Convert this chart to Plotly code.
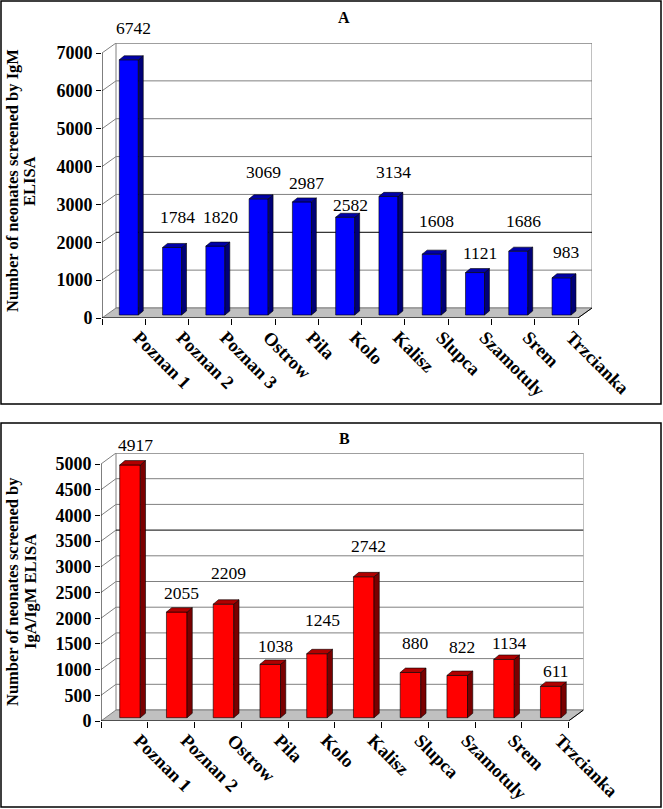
import plotly.graph_objects as go

W, H = 663, 809

# ---------------- data ----------------
cats_a = ["Poznan 1", "Poznan 2", "Poznan 3", "Ostrow", "Pila", "Kolo",
          "Kalisz", "Slupca", "Szamotuly", "Srem", "Trzcianka"]
vals_a = [6742, 1784, 1820, 3069, 2987, 2582, 3134, 1608, 1121, 1686, 983]
ticks_a = [0, 1000, 2000, 3000, 4000, 5000, 6000, 7000]

cats_b = ["Poznan 1", "Poznan 2", "Ostrow", "Pila", "Kolo", "Kalisz",
          "Slupca", "Szamotuly", "Srem", "Trzcianka"]
vals_b = [4917, 2055, 2209, 1038, 1245, 2742, 880, 822, 1134, 611]
ticks_b = [0, 500, 1000, 1500, 2000, 2500, 3000, 3500, 4000, 4500, 5000]

title_a = "A"
title_b = "B"
ylab_a = ["Number of neonates screened by IgM", "ELISA"]
ylab_b = ["Number of neonates screened by", "IgA/IgM ELISA"]

# label offsets above bar tops (pixels) - styling
gap_a = [32, 30, 29, 27, 19, 12, 24, 33, 20, 30, 26]
gap_b = [20, 19, 31, 18, 34, 31, 29, 28, 16, 15]

SERIF = "Liberation Serif"

panels = [
    dict(cats=cats_a, vals=vals_a, ticks=ticks_a, title=title_a, ylab=ylab_a, gaps=gap_a,
         left=102, right=592, zero=318, toptick=53, dx_px=14, dy_px=10,
         front="#0000FF", side="#000078", topc="#0000A8", darkgrid=2000,
         title_xy=(344, 17), ylab_x=(12, 29), ylab_y=181, border=(1, 1, 661, 404)),
    dict(cats=cats_b, vals=vals_b, ticks=ticks_b, title=title_b, ylab=ylab_b, gaps=gap_b,
         left=101, right=583.5, zero=721, toptick=464, dx_px=15, dy_px=11,
         front="#FF0000", side="#7A0000", topc="#B00000", darkgrid=3500,
         title_xy=(344, 438), ylab_x=(12, 30), ylab_y=592, border=(1, 423, 661, 807)),
]

fig = go.Figure()
shapes = []
annotations = []
layout_axes = {}

for p_i, P in enumerate(panels):
    sfx = "" if p_i == 0 else str(p_i + 1)
    xa, ya = "x" + sfx, "y" + sfx
    cats, vals, ticks = P["cats"], P["vals"], P["ticks"]
    n = len(cats)
    ymax = ticks[-1]
    k = (P["zero"] - P["toptick"]) / ymax          # px per unit
    dy = P["dy_px"] / k
    top_px = P["zero"] - (ymax + dy) * k
    catw = (P["right"] - P["left"] - P["dx_px"]) / n
    dx = P["dx_px"] / catw
    x0, x1 = -0.5, n - 0.5
    lab_shift = 15 / catw   # rotated labels start slightly right of the category centre

    layout_axes["xaxis" + sfx] = dict(
        domain=[P["left"] / W, P["right"] / W], range=[x0, x1 + dx],
        anchor=ya, showgrid=False, zeroline=False, showline=False, automargin=False,
        tickmode="array", tickvals=[i + lab_shift for i in range(n)], ticktext=cats, ticks="",
        tickangle=45, ticklabelstandoff=4,
        tickfont=dict(family=SERIF, size=18.5, color="black", weight="bold"),
        minor=dict(tickmode="array", tickvals=[i - 0.5 for i in range(n + 1)],
                   ticks="outside", ticklen=6, tickcolor="black", tickwidth=1, showgrid=False),
        fixedrange=True)
    layout_axes["yaxis" + sfx] = dict(
        domain=[1 - P["zero"] / H, 1 - top_px / H], range=[0, ymax + dy],
        anchor=xa, showgrid=False, zeroline=False, showline=False, automargin=False,
        tickmode="array", tickvals=ticks, ticks="outside", ticklen=5,
        tickcolor="black", tickwidth=1,
        tickfont=dict(family=SERIF, size=18, color="black", weight="bold"),
        fixedrange=True)

    # back wall
    shapes.append(dict(type="rect", xref=xa, yref=ya, x0=x0 + dx, x1=x1 + dx,
                       y0=dy, y1=ymax + dy, fillcolor="white",
                       line=dict(color="#808080", width=1), layer="below"))
    # floor
    shapes.append(dict(type="path", xref=xa, yref=ya,
                       path=f"M {x0},0 L {x1},0 L {x1 + dx},{dy} L {x0 + dx},{dy} Z",
                       fillcolor="#C0C0C0", line=dict(color="#808080", width=1), layer="below"))
    # grid lines on back wall and left wall
    for v in ticks[1:]:
        col = "black" if v == P["darkgrid"] else "#808080"
        shapes.append(dict(type="line", xref=xa, yref=ya, x0=x0 + dx, x1=x1 + dx,
                           y0=v + dy, y1=v + dy, line=dict(color=col, width=1), layer="below"))
        shapes.append(dict(type="line", xref=xa, yref=ya, x0=x0, x1=x0 + dx,
                           y0=v, y1=v + dy, line=dict(color="#808080", width=1), layer="below"))
    # front axes lines
    shapes.append(dict(type="line", xref=xa, yref=ya, x0=x0, x1=x0, y0=0, y1=ymax,
                       line=dict(color="black", width=1)))
    shapes.append(dict(type="line", xref=xa, yref=ya, x0=x0, x1=x1, y0=0, y1=0,
                       line=dict(color="black", width=1)))
    shapes.append(dict(type="line", xref=xa, yref=ya, x0=x1, x1=x1 + dx, y0=0, y1=dy,
                       line=dict(color="black", width=1)))

    # bars
    bw = 0.44
    xs = 0.12
    base = 0.3 * dy
    ddx = 0.35 * dx
    ddy = 0.4 * dy
    xc = [i + xs for i in range(n)]
    fig.add_trace(go.Bar(x=xc, y=vals, base=base, width=bw,
                         marker=dict(color=P["front"], line=dict(color="black", width=0.6)),
                         xaxis=xa, yaxis=ya, showlegend=False, hoverinfo="skip"))
    sx, sy, tx, ty = [], [], [], []
    for c, v in zip(xc, vals):
        l, r = c - bw / 2, c + bw / 2
        t = base + v
        sx += [r, r + ddx, r + ddx, r, r, None]
        sy += [base, base + ddy, t + ddy, t, base, None]
        tx += [l, r, r + ddx, l + ddx, l, None]
        ty += [t, t, t + ddy, t + ddy, t, None]
    fig.add_trace(go.Scatter(x=sx, y=sy, fill="toself", fillcolor=P["side"], mode="lines",
                             line=dict(color="black", width=0.6), xaxis=xa, yaxis=ya,
                             showlegend=False, hoverinfo="skip"))
    fig.add_trace(go.Scatter(x=tx, y=ty, fill="toself", fillcolor=P["topc"], mode="lines",
                             line=dict(color="black", width=0.6), xaxis=xa, yaxis=ya,
                             showlegend=False, hoverinfo="skip"))

    # value labels
    for c, v, g in zip(xc, vals, P["gaps"]):
        annotations.append(dict(x=c + ddx, y=base + v, xref=xa, yref=ya, text=str(v),
                                showarrow=False, yshift=g, xanchor="center", yanchor="middle",
                                font=dict(family=SERIF, size=17.5, color="black")))

    # title
    annotations.append(dict(x=P["title_xy"][0] / W, y=1 - P["title_xy"][1] / H,
                            xref="paper", yref="paper", text=P["title"], showarrow=False,
                            xanchor="center", yanchor="middle",
                            font=dict(family=SERIF, size=16, color="black", weight="bold")))
    # y-axis title (two lines)
    for line_txt, lx in zip(P["ylab"], P["ylab_x"]):
        annotations.append(dict(x=lx / W, y=1 - P["ylab_y"] / H, xref="paper", yref="paper",
                                text=line_txt, showarrow=False, textangle=-90,
                                xanchor="center", yanchor="middle",
                                font=dict(family=SERIF, size=16.5, color="black", weight="bold")))
    # panel border
    bx0, by0, bx1, by1 = P["border"]
    shapes.append(dict(type="rect", xref="paper", yref="paper",
                       x0=bx0 / W, x1=bx1 / W, y0=1 - by1 / H, y1=1 - by0 / H,
                       line=dict(color="black", width=1.5), fillcolor="rgba(0,0,0,0)"))

fig.update_layout(
    width=W, height=H, margin=dict(l=0, r=0, t=0, b=0, autoexpand=False),
    paper_bgcolor="white", plot_bgcolor="rgba(0,0,0,0)",
    showlegend=False, shapes=shapes, annotations=annotations, bargap=0,
    **layout_axes)

fig.write_html("out.html", config={"displayModeBar": False, "staticPlot": True},
               post_script="document.body.style.margin='0';document.body.style.overflow='hidden';")
